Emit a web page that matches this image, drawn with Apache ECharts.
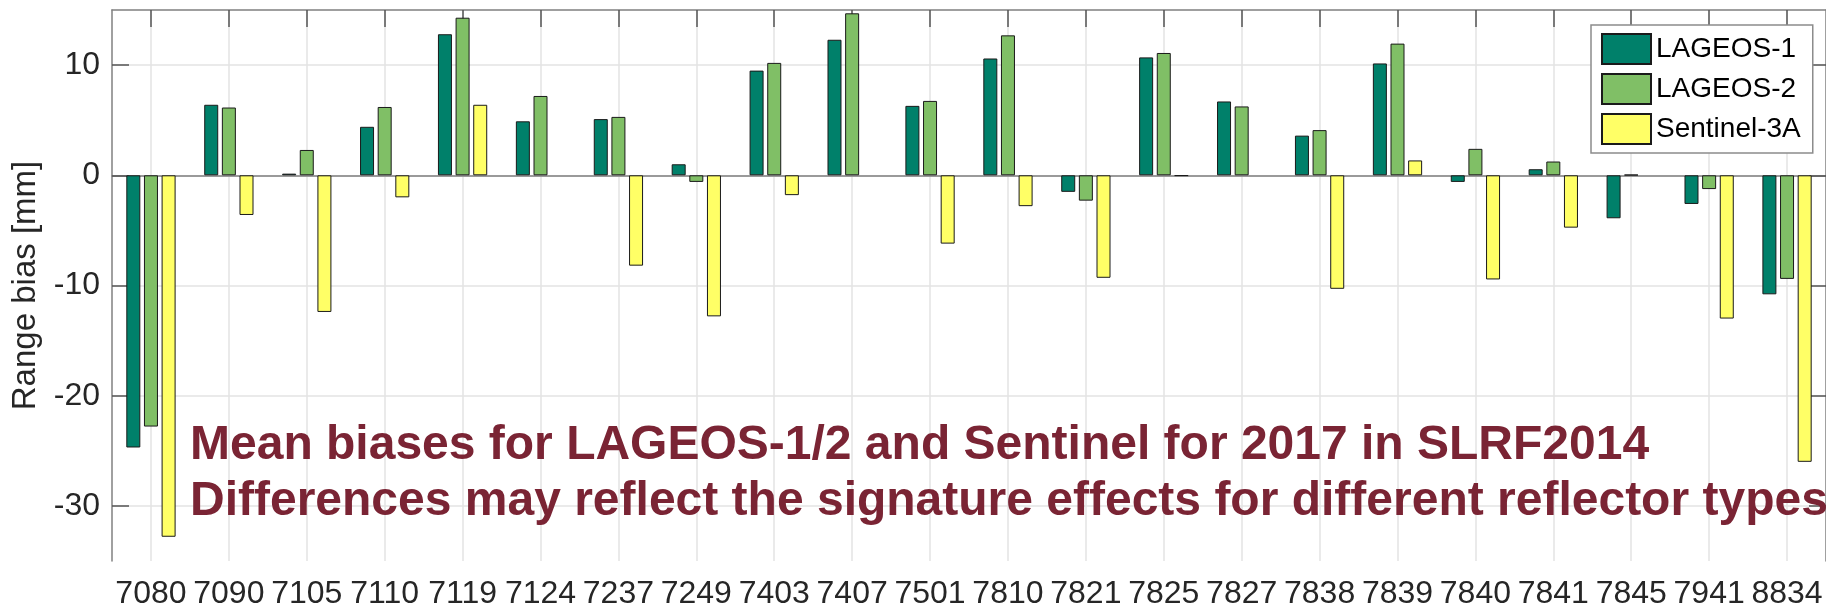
<!DOCTYPE html>
<html>
<head>
<meta charset="utf-8">
<script src="https://cdn.jsdelivr.net/npm/echarts@6/dist/echarts.min.js"></script>
<style>html,body{margin:0;padding:0;background:#fff}#c{width:1826px;height:610px}</style>
</head>
<body>
<div id="c"></div>
<script>
const categories = ['7080','7090','7105','7110','7119','7124','7237','7249','7403','7407','7501','7810','7821','7825','7827','7838','7839','7840','7841','7845','7941','8834'];
const lageos1 = [-24.7, 6.4, 0.15, 4.4, 12.8, 4.9, 5.1, 1.0, 9.5, 12.3, 6.3, 10.6, -1.5, 10.7, 6.7, 3.6, 10.15, -0.6, 0.55, -3.9, -2.6, -10.8];
const lageos2 = [-22.8, 6.15, 2.3, 6.2, 14.3, 7.2, 5.3, -0.6, 10.2, 14.7, 6.75, 12.7, -2.3, 11.1, 6.25, 4.1, 11.95, 2.4, 1.25, 0.05, -1.25, -9.4];
const sentinel3a = [-32.8, -3.6, -12.4, -2.0, 6.4, null, -8.2, -12.8, -1.8, null, -6.2, -2.8, -9.3, -0.05, null, -10.3, 1.35, -9.45, -4.75, null, -13.0, -26.0];
const seriesNames = ['LAGEOS-1', 'LAGEOS-2', 'Sentinel-3A'];
const yTicks = [-30, -20, -10, 0, 10];
const yLabel = 'Range bias [mm]';
const noteLines = ['Mean biases for LAGEOS-1/2 and Sentinel for 2017 in SLRF2014',
                   'Differences may reflect the signature effects for different reflector types'];

const FONT = '"Liberation Sans", Arial, Helvetica, sans-serif';
const colors = ['#00806A', '#80BF66', '#FFFF66'];
const catIdx = categories.map((_, i) => i);

const chart = echarts.init(document.getElementById('c'), null, {renderer: 'canvas'});
const mkSeries = (name, data, color) => ({
  name, type: 'bar', data, xAxisIndex: 0, yAxisIndex: 0,
  barWidth: 14, barGap: '26%',
  itemStyle: {color, borderColor: '#1a1a1a', borderWidth: 1},
  emphasis: {disabled: true}, animation: false
});

chart.setOption({
  animation: false,
  backgroundColor: '#fff',
  textStyle: {fontFamily: FONT},
  grid: {left: 112, top: 10, right: -5, bottom: 46, containLabel: false},
  legend: {
    orient: 'vertical', left: 1591, top: 25,
    data: seriesNames,
    icon: 'rect', itemWidth: 49, itemHeight: 30, itemGap: 8,
    padding: [8, 12, 8, 10],
    backgroundColor: '#fff', borderColor: '#8c8c8c', borderWidth: 1.5,
    textStyle: {fontSize: 28, color: '#000', fontFamily: FONT, lineHeight: 30},
    selectedMode: false
  },
  xAxis: [
    {
      type: 'category', data: categories, position: 'bottom',
      axisLine: {lineStyle: {color: '#808080', width: 1.5}},
      axisTick: {inside: true, alignWithLabel: true, length: 17, lineStyle: {color: '#555', width: 1.5}},
      axisLabel: {fontSize: 32, color: '#262626', margin: 17, interval: 0, fontFamily: FONT},
      splitLine: {show: false}
    },
    {
      type: 'value', position: 'top', min: -0.5, max: 21.5,
      axisLine: {show: true, onZero: false, lineStyle: {color: '#808080', width: 1.5}},
      axisTick: {show: true, inside: true, length: 17, customValues: catIdx, lineStyle: {color: '#555', width: 1.5}},
      axisLabel: {show: false},
      splitLine: {show: true, lineStyle: {color: '#e3e3e3', width: 1.5}}
    }
  ],
  yAxis: [
    {
      type: 'value', min: -35, max: 15, position: 'left',
      name: yLabel, nameLocation: 'middle', nameGap: 63,
      nameTextStyle: {fontSize: 33, color: '#262626', fontFamily: FONT},
      axisLine: {show: true, onZero: false, lineStyle: {color: '#808080', width: 1.5}},
      axisTick: {show: true, inside: true, length: 17, customValues: yTicks, lineStyle: {color: '#555', width: 1.5}},
      axisLabel: {fontSize: 32, color: '#262626', margin: 12, customValues: yTicks, fontFamily: FONT},
      splitLine: {show: true, lineStyle: {color: '#e3e3e3', width: 1.5}}
    },
    {
      type: 'value', min: -35, max: 15, position: 'right',
      axisLine: {show: true, onZero: false, lineStyle: {color: '#808080', width: 1.5}},
      axisTick: {show: true, inside: true, length: 17, customValues: yTicks, lineStyle: {color: '#555', width: 1.5}},
      axisLabel: {show: false},
      splitLine: {show: false}
    }
  ],
  series: [
    mkSeries(seriesNames[0], lageos1, colors[0]),
    mkSeries(seriesNames[1], lageos2, colors[1]),
    mkSeries(seriesNames[2], sentinel3a, colors[2])
  ],
  graphic: [{
    type: 'text', left: 190, top: 418, z: 100,
    style: {
      text: noteLines.join('\n'),
      font: 'bold 48px ' + FONT,
      fill: '#7A2434',
      lineHeight: 56
    }
  }]
});
</script>
</body>
</html>
